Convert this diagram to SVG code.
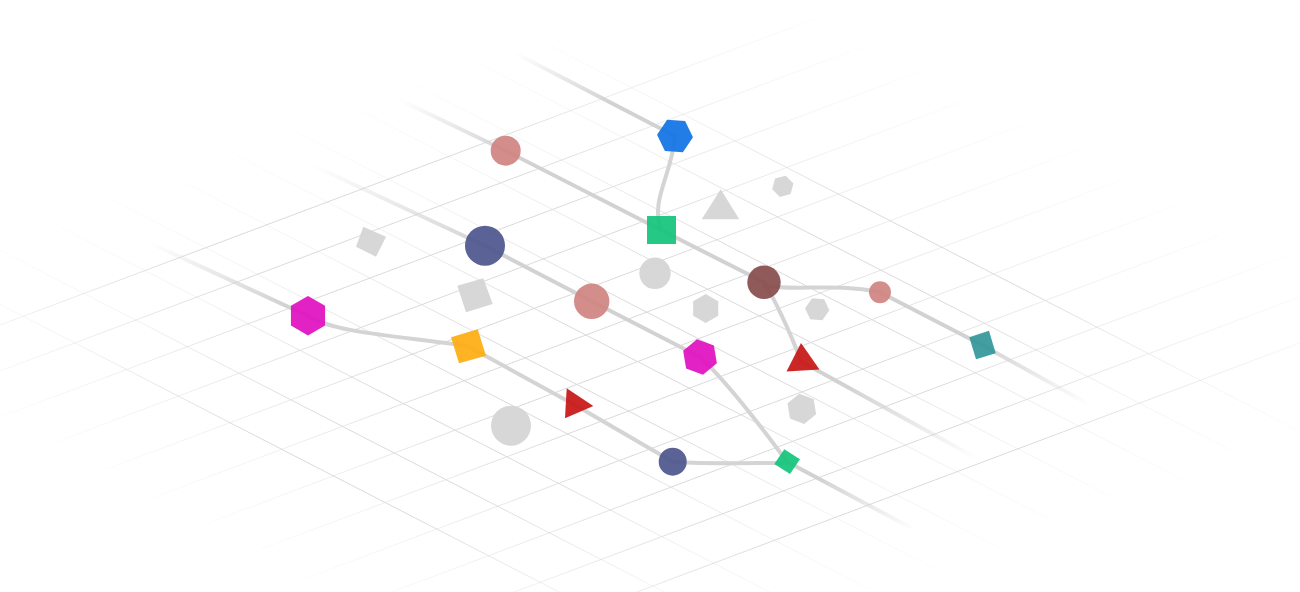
<svg xmlns="http://www.w3.org/2000/svg" width="1300" height="592" viewBox="0 0 1300 592">
<defs>
<linearGradient id="gA" x1="0" y1="0" x2="1" y2="1">
<stop offset="0" stop-color="#dadada" stop-opacity="0"/>
<stop offset="0.2" stop-color="#dadada" stop-opacity="0.3"/>
<stop offset="0.45" stop-color="#dadada" stop-opacity="1"/>
<stop offset="0.62" stop-color="#dadada" stop-opacity="1"/>
<stop offset="0.82" stop-color="#dadada" stop-opacity="0.35"/>
<stop offset="1" stop-color="#dadada" stop-opacity="0"/>
</linearGradient>
<linearGradient id="gB" x1="0" y1="1" x2="1" y2="0">
<stop offset="0" stop-color="#dadada" stop-opacity="0"/>
<stop offset="0.15" stop-color="#dadada" stop-opacity="0.4"/>
<stop offset="0.35" stop-color="#dadada" stop-opacity="1"/>
<stop offset="0.6" stop-color="#dadada" stop-opacity="1"/>
<stop offset="0.85" stop-color="#dadada" stop-opacity="0.3"/>
<stop offset="1" stop-color="#dadada" stop-opacity="0"/>
</linearGradient>
<linearGradient id="fin60" x1="0" y1="0" x2="1" y2="1">
<stop offset="0" stop-color="#d2d2d2" stop-opacity="0"/>
<stop offset="0.6" stop-color="#d2d2d2" stop-opacity="1"/>
</linearGradient>
<linearGradient id="fin30" x1="0" y1="0" x2="1" y2="1">
<stop offset="0" stop-color="#d2d2d2" stop-opacity="0"/>
<stop offset="0.3" stop-color="#d2d2d2" stop-opacity="1"/>
</linearGradient>
<linearGradient id="fin45" x1="0" y1="0" x2="1" y2="1">
<stop offset="0" stop-color="#d2d2d2" stop-opacity="0"/>
<stop offset="0.45" stop-color="#d2d2d2" stop-opacity="1"/>
</linearGradient>
<linearGradient id="fin85" x1="0" y1="0" x2="1" y2="1">
<stop offset="0" stop-color="#d2d2d2" stop-opacity="0"/>
<stop offset="0.85" stop-color="#d2d2d2" stop-opacity="1"/>
</linearGradient>
<linearGradient id="fout45" x1="0" y1="0" x2="1" y2="1">
<stop offset="0.45" stop-color="#d2d2d2" stop-opacity="1"/>
<stop offset="1" stop-color="#d2d2d2" stop-opacity="0"/>
</linearGradient>
<linearGradient id="fout25" x1="0" y1="0" x2="1" y2="1">
<stop offset="0.25" stop-color="#d2d2d2" stop-opacity="1"/>
<stop offset="1" stop-color="#d2d2d2" stop-opacity="0"/>
</linearGradient>
</defs>
<style>
.ga{stroke:url(#gA);stroke-width:1;fill:none}
.gb{stroke:url(#gB);stroke-width:1;fill:none}
.trk{stroke-width:4;fill:none;stroke-linecap:round;stroke-linejoin:round}
.cv{stroke:#d4d4d4;stroke-width:4;fill:none;stroke-linecap:round}
.node{opacity:0.92}
.pink{fill:#cf8482}
.blue{fill:#0f72e4}
.green{fill:#12c47b}
.navy{fill:#4d558d}
.maroon{fill:#874c4c}
.magenta{fill:#e00fbf}
.orange{fill:#fdac10}
.red{fill:#c71515}
.teal{fill:#31979a}
.grey{fill:#d4d4d4}
</style>
<rect width="1300" height="592" fill="#ffffff"/>
<g id="grid">
<line class="ga" x1="-106.05" y1="249.8" x2="721.15" y2="675.4"/>
<line class="ga" x1="-45.21" y1="226.94" x2="781.99" y2="652.54"/>
<line class="ga" x1="15.63" y1="204.08" x2="842.83" y2="629.68"/>
<line class="ga" x1="76.47" y1="181.22" x2="903.67" y2="606.82"/>
<line class="ga" x1="137.31" y1="158.36" x2="964.51" y2="583.96"/>
<line class="ga" x1="198.15" y1="135.5" x2="1025.35" y2="561.1"/>
<line class="ga" x1="258.99" y1="112.64" x2="1086.19" y2="538.24"/>
<line class="ga" x1="319.83" y1="89.78" x2="1147.03" y2="515.38"/>
<line class="ga" x1="380.67" y1="66.92" x2="1207.87" y2="492.52"/>
<line class="ga" x1="441.51" y1="44.06" x2="1268.71" y2="469.66"/>
<line class="ga" x1="502.35" y1="21.2" x2="1329.55" y2="446.8"/>
<line class="gb" x1="-128.9" y1="373.45" x2="844.54" y2="7.69"/>
<line class="gb" x1="-77.2" y1="400.05" x2="896.24" y2="34.29"/>
<line class="gb" x1="-25.5" y1="426.65" x2="947.94" y2="60.89"/>
<line class="gb" x1="26.2" y1="453.25" x2="999.64" y2="87.49"/>
<line class="gb" x1="77.9" y1="479.85" x2="1051.34" y2="114.09"/>
<line class="gb" x1="129.6" y1="506.45" x2="1103.04" y2="140.69"/>
<line class="gb" x1="181.3" y1="533.05" x2="1154.74" y2="167.29"/>
<line class="gb" x1="233" y1="559.65" x2="1206.44" y2="193.89"/>
<line class="gb" x1="284.7" y1="586.25" x2="1258.14" y2="220.49"/>
<line class="gb" x1="336.4" y1="612.85" x2="1309.84" y2="247.09"/>
<line class="gb" x1="388.1" y1="639.45" x2="1361.54" y2="273.69"/>
<line class="gb" x1="439.8" y1="666.05" x2="1413.24" y2="300.29"/>
</g>
<g id="connectors">
<path class="trk" stroke="url(#fin60)" d="M515,53 L675,136"/>
<path class="trk" stroke="url(#fin30)" d="M400,100 L505.7,150.7 L661,230 L764,282.3"/>
<path class="trk" stroke="url(#fin45)" d="M312,165 L485,245.7 L591.7,301.3 L700,357"/>
<path class="trk" stroke="url(#fin85)" d="M150,243 L308,316"/>
<path class="trk" stroke="#d4d4d4" d="M468.4,346.4 L575,405 L672.7,461.7"/>
<path class="trk" stroke="url(#fout45)" d="M880,292.3 L982.5,345.2 L1090,405"/>
<path class="trk" stroke="url(#fout25)" d="M802,362 L978,459"/>
<path class="trk" stroke="url(#fout25)" d="M787,461.7 L915,530"/>
<path class="cv" d="M675,136 C672,175 650,200 661,230"/>
<path class="cv" d="M308,316 C335,333 400,336 468,346"/>
<path class="cv" d="M764,286 C800,291 835,283 880,292"/>
<path class="cv" d="M764,282 C772,295 790,330 801,362"/>
<path class="cv" d="M700,357 C725,380 760,425 787,461.7"/>
<path class="cv" d="M673,462 C710,464 750,463 787,463"/>
</g>
<g id="n-grey-square-1" class="node"><polygon class="grey" points="363.3,226.7 386,236.7 376,256.7 356,246.7"/></g>
<g id="n-grey-square-2" class="node"><polygon class="grey" points="457.3,285.7 483.3,278.3 492.7,304 466,312.3"/></g>
<g id="n-grey-circle-1" class="node"><circle class="grey" cx="655" cy="273.3" r="15.7"/></g>
<g id="n-grey-circle-2" class="node"><circle class="grey" cx="511" cy="425.7" r="20"/></g>
<g id="n-grey-triangle" class="node"><polygon class="grey" points="720.7,189.3 701.7,219.3 739.3,219.3"/></g>
<g id="n-grey-hex-1" class="node"><polygon class="grey" points="785.65,175.67 793.43,183.45 790.58,194.08 779.95,196.93 772.17,189.15 775.02,178.52"/></g>
<g id="n-grey-hex-2" class="node"><polygon class="grey" points="705.7,294 718.26,301.25 718.26,315.75 705.7,323 693.14,315.75 693.14,301.25"/></g>
<g id="n-grey-hex-3" class="node"><polygon class="grey" points="829.35,310.26 822.36,320.26 810.2,319.19 805.05,308.14 812.04,298.14 824.2,299.21"/></g>
<g id="n-grey-hex-4" class="node"><polygon class="grey" points="799.41,393.69 813.69,399.17 816.08,414.28 804.19,423.91 789.91,418.43 787.52,403.32"/></g>
<g id="n-pink-1" class="node"><circle class="pink" cx="505.7" cy="150.7" r="15"/></g>
<g id="n-blue-hex" class="node"><polygon class="blue" points="692.96,137.26 682.89,152.18 664.93,150.92 657.04,134.74 667.11,119.82 685.07,121.08"/></g>
<g id="n-green-square" class="node"><rect class="green" x="647" y="216" width="29" height="28"/></g>
<g id="n-navy-1" class="node"><circle class="navy" cx="485" cy="245.7" r="20"/></g>
<g id="n-pink-2" class="node"><circle class="pink" cx="591.7" cy="301.3" r="17.7"/></g>
<g id="n-maroon" class="node"><circle class="maroon" cx="764" cy="282.3" r="16.7"/></g>
<g id="n-pink-3" class="node"><circle class="pink" cx="880" cy="292.3" r="11"/></g>
<g id="n-teal-square" class="node"><polygon class="teal" points="969.3,337.3 989,330.7 995.7,353.3 976,359.3"/></g>
<g id="n-magenta-hex-1" class="node"><polygon class="magenta" points="308,296 325.06,305.85 325.06,325.55 308,335.4 290.94,325.55 290.94,305.85"/></g>
<g id="n-orange-square" class="node"><polygon class="orange" points="451,337.3 477.7,329.3 486,355.7 459,363.3"/></g>
<g id="n-magenta-hex-2" class="node"><polygon class="magenta" points="697.03,339.25 713.89,345.55 716.86,363.3 702.97,374.75 686.11,368.45 683.14,350.7"/></g>
<g id="n-red-triangle-1" class="node"><polygon class="red" points="566.7,388.3 565,418.3 593.3,406"/></g>
<g id="n-red-triangle-2" class="node"><polygon class="red" points="801,343 786.5,371.5 819.5,369.5"/></g>
<g id="n-navy-2" class="node"><circle class="navy" cx="672.7" cy="461.7" r="14"/></g>
<g id="n-green-diamond" class="node"><polygon class="green" points="784.3,449.3 800,459.3 790,474 774.3,464"/></g>
</svg>
